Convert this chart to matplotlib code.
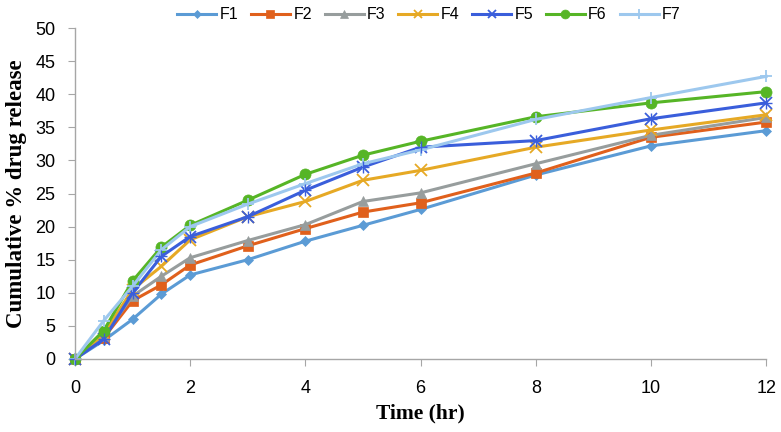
import numpy as np
import matplotlib.pyplot as plt

# Time points (hr)
time_hr = [0, 0.5, 1, 1.5, 2, 3, 4, 5, 6, 8, 10, 12]

# Cumulative % drug release per formulation
f1 = [0, 2.8, 6.0, 9.8, 12.7, 15.0, 17.8, 20.2, 22.6, 27.8, 32.2, 34.5]
f2 = [0, 3.2, 8.8, 11.2, 14.2, 17.1, 19.7, 22.2, 23.6, 28.1, 33.5, 35.8]
f3 = [0, 3.5, 9.5, 12.5, 15.3, 17.9, 20.3, 23.8, 25.1, 29.5, 33.8, 36.5]
f4 = [0, 3.8, 10.5, 14.0, 18.0, 21.5, 23.8, 27.0, 28.5, 32.0, 34.6, 36.9]
f5 = [0, 3.0, 10.0, 15.5, 18.5, 21.5, 25.5, 29.0, 32.0, 33.0, 36.3, 38.7]
f6 = [0, 4.3, 11.8, 16.9, 20.2, 24.0, 27.9, 30.8, 32.9, 36.6, 38.7, 40.4]
f7 = [0, 5.8, 11.0, 16.5, 20.0, 23.4, 26.5, 29.5, 31.6, 36.2, 39.5, 42.7]

labels = ['F1', 'F2', 'F3', 'F4', 'F5', 'F6', 'F7']
series = [f1, f2, f3, f4, f5, f6, f7]
colors = ['#5B9BD5', '#E0601C', '#979D9D', '#E6A925', '#3A5EDB', '#56B526', '#9DC8EE']
markers = ['D', 's', '^', 'x', 'x', 'o', '+']
msizes = [5, 7, 7, 8, 8, 8, 9]

fig = plt.figure(figsize=(7.81, 4.32), dpi=100)
ax = fig.add_axes([0.096, 0.169, 0.885, 0.766])

for lab, y, c, m, ms in zip(labels, series, colors, markers, msizes):
    ax.plot(time_hr, y, color=c, lw=2.2, marker=m, markersize=ms,
            markeredgewidth=1.3 if m in ('x', '+') else 0.5, label=lab)
# F5 asterisk look: overlay a plus on the x marker
ax.plot(time_hr, f5, color=colors[4], lw=0, marker='+', markersize=9, markeredgewidth=1.0)

ax.set_xlim(0, 12)
ax.set_ylim(0, 50)
ax.set_xticks(np.arange(0, 13, 2))
ax.set_yticks(np.arange(0, 51, 5))

for s in ['top', 'right']:
    ax.spines[s].set_visible(False)
for s in ['left', 'bottom']:
    ax.spines[s].set_color('#A6A6A6')
    ax.spines[s].set_linewidth(1)
ax.tick_params(colors='#A6A6A6', labelcolor='black', length=5, direction='out')
ax.tick_params(axis='y', pad=9)
ax.tick_params(axis='x', pad=10)
for t in ax.get_xticklabels() + ax.get_yticklabels():
    t.set_fontfamily('Liberation Sans')
    t.set_fontsize(13)

ax.set_xlabel('Time (hr)', fontfamily='Liberation Serif', fontweight='bold', fontsize=15.5,
              labelpad=5)
ax.set_ylabel('Cumulative % drug release', fontfamily='Liberation Serif', fontweight='bold',
              fontsize=16.5, labelpad=6)

leg = ax.legend(loc='center', bbox_to_anchor=(0.512, 1.04), ncol=7, frameon=False,
                prop={'family': 'Liberation Sans', 'size': 11.5},
                handlelength=2.45, columnspacing=0.8, handletextpad=0.2)
for i, h in enumerate(leg.legend_handles):
    h.set_markersize(msizes[i] * 0.8)

for line in ax.lines:
    line.set_clip_on(False)

fig.savefig('out.png', dpi=100)
